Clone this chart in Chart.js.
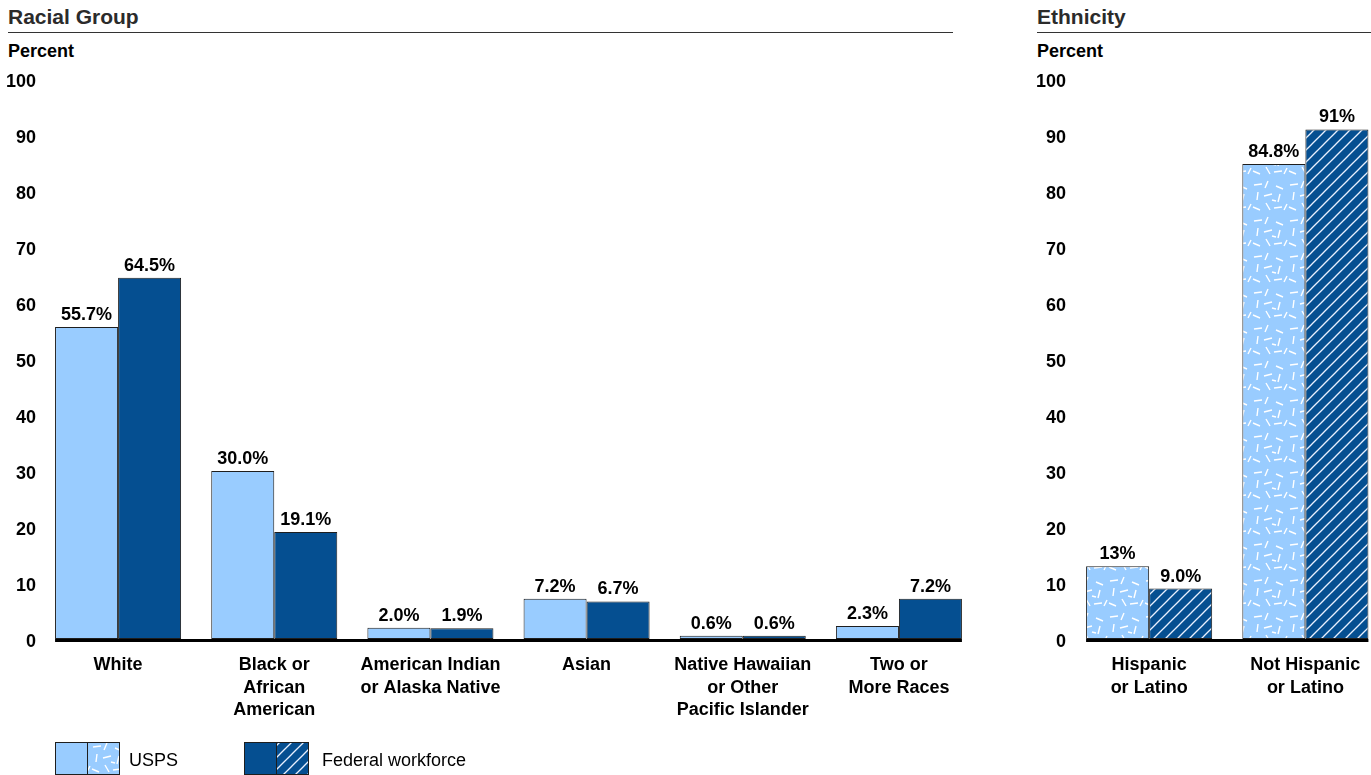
<!DOCTYPE html>
<html>
<head>
<meta charset="utf-8">
<script src="https://cdn.jsdelivr.net/npm/chart.js@4.4.1/dist/chart.umd.min.js"></script>
<style>
  html, body { margin: 0; padding: 0; background: #fff; overflow: hidden; width: 1371px; height: 775px; }
  body { position: relative; font-family: "Liberation Sans", Arial, sans-serif; }
  .title { position: absolute; font-weight: bold; font-size: 21px; color: #2b2b2b; line-height: 24px; }
  .rule { position: absolute; height: 0; border-top: 1.5px solid #333; }
  .unit { position: absolute; font-weight: bold; font-size: 18px; color: #000; line-height: 20px; }
  .cv { position: absolute; top: 0; }
  .leg { position: absolute; font-size: 18px; color: #000; line-height: 20px; }
  .sw { position: absolute; }
</style>
</head>
<body>
<div class="title" style="left:8px; top:5px;">Racial Group</div>
<div class="rule" style="left:8px; top:32px; width:945px;"></div>
<div class="unit" style="left:8px; top:41px;">Percent</div>

<div class="title" style="left:1037px; top:5px;">Ethnicity</div>
<div class="rule" style="left:1037px; top:32px; width:334px;"></div>
<div class="unit" style="left:1037px; top:41px;">Percent</div>

<canvas id="race" class="cv" width="990" height="775" style="left:0px; width:990px; height:775px;"></canvas>
<canvas id="eth" class="cv" width="400" height="775" style="left:1000px; width:400px; height:775px;"></canvas>

<canvas id="swUsps" class="sw" width="65" height="33" style="left:55px; top:742px;"></canvas>
<div class="leg" style="left:129px; top:750px;">USPS</div>
<canvas id="swFed" class="sw" width="65" height="33" style="left:244px; top:742px;"></canvas>
<div class="leg" style="left:322px; top:750px;">Federal workforce</div>

<script>
// ---------- DATA ----------
const raceCategories = [
  ['White'],
  ['Black or', 'African', 'American'],
  ['American Indian', 'or Alaska Native'],
  ['Asian'],
  ['Native Hawaiian', 'or Other', 'Pacific Islander'],
  ['Two or', 'More Races']
];
const raceUsps = [55.7, 30.0, 2.0, 7.2, 0.6, 2.3];
const raceFed = [64.5, 19.1, 1.9, 6.7, 0.6, 7.2];
const raceUspsLabels = ['55.7%', '30.0%', '2.0%', '7.2%', '0.6%', '2.3%'];
const raceFedLabels = ['64.5%', '19.1%', '1.9%', '6.7%', '0.6%', '7.2%'];

const ethCategories = [
  ['Hispanic', 'or Latino'],
  ['Not Hispanic', 'or Latino']
];
const ethUsps = [13, 84.8];
const ethFed = [9.0, 91];
const ethUspsLabels = ['13%', '84.8%'];
const ethFedLabels = ['9.0%', '91%'];

const seriesNames = ['USPS', 'Federal workforce'];
const yTicks = [0, 10, 20, 30, 40, 50, 60, 70, 80, 90, 100];

// ---------- STYLE ----------
const LIGHT = '#99CCFF';
const DARK = '#054F91';
const EDGE = '#1e1e1e';
const FONT = '"Liberation Sans", Arial, sans-serif';

// dash texture geometry (fixed)
const dashSegs = [
  [2,5,10,4],[16,1,13,8],[24,6,31,9],[6,12,5,20],[12,16,20,14],
  [28,14,26,22],[1,27,8,30],[14,23,18,30],[22,28,30,27],[32,30,35,24],[20,20,24,21]
];
function dashPattern(ctx) {
  const c = document.createElement('canvas');
  c.width = 36; c.height = 36;
  const g = c.getContext('2d');
  g.fillStyle = LIGHT; g.fillRect(0, 0, 36, 36);
  g.strokeStyle = '#ffffff'; g.lineWidth = 1.4; g.lineCap = 'butt';
  dashSegs.forEach(s => { g.beginPath(); g.moveTo(s[0], s[1]); g.lineTo(s[2], s[3]); g.stroke(); });
  return ctx.createPattern(c, 'repeat');
}
function hatchPattern(ctx) {
  const c = document.createElement('canvas');
  c.width = 12; c.height = 12;
  const g = c.getContext('2d');
  g.fillStyle = DARK; g.fillRect(0, 0, 12, 12);
  g.strokeStyle = '#e8f0ff'; g.lineWidth = 1.3;
  [[-1,13,13,-1],[-1,1,1,-1],[11,13,13,11]].forEach(s => { g.beginPath(); g.moveTo(s[0], s[1]); g.lineTo(s[2], s[3]); g.stroke(); });
  return ctx.createPattern(c, 'repeat');
}

const valueLabelPlugin = {
  id: 'valueLabels',
  afterDatasetsDraw(chart) {
    const ctx = chart.ctx;
    ctx.save();
    ctx.font = 'bold 18px ' + FONT;
    ctx.fillStyle = '#000';
    ctx.textAlign = 'center';
    ctx.textBaseline = 'alphabetic';
    chart.data.datasets.forEach((ds, i) => {
      const meta = chart.getDatasetMeta(i);
      meta.data.forEach((el, j) => {
        ctx.fillText(ds.valueLabels[j], el.x, el.y - 7);
      });
    });
    // baseline
    const m0 = chart.getDatasetMeta(0);
    const m1 = chart.getDatasetMeta(chart.data.datasets.length - 1);
    const first = m0.data[0], last = m1.data[m1.data.length - 1];
    const x1 = first.x - first.width / 2;
    const x2 = last.x + last.width / 2;
    ctx.strokeStyle = '#000';
    ctx.lineWidth = 3;
    ctx.beginPath();
    ctx.moveTo(x1, chart.chartArea.bottom + 1.5);
    ctx.lineTo(x2, chart.chartArea.bottom + 1.5);
    ctx.stroke();
    ctx.restore();
  }
};

function makeChart(id, cats, usps, fed, uspsL, fedL, uspsBg, fedBg, axisW, padRight, tickPad) {
  const ctx = document.getElementById(id).getContext('2d');
  return new Chart(ctx, {
    type: 'bar',
    data: {
      labels: cats,
      datasets: [
        { label: seriesNames[0], data: usps, valueLabels: uspsL, backgroundColor: uspsBg, borderColor: EDGE, borderWidth: 1, borderSkipped: false },
        { label: seriesNames[1], data: fed, valueLabels: fedL, backgroundColor: fedBg, borderColor: EDGE, borderWidth: 1, borderSkipped: false }
      ]
    },
    options: {
      responsive: false,
      animation: false,
      devicePixelRatio: 1,
      layout: { padding: { top: 79, right: padRight, left: 0, bottom: 0 } },
      plugins: { legend: { display: false }, tooltip: { enabled: false }, title: { display: false } },
      datasets: { bar: { barPercentage: 1.0, categoryPercentage: 0.807 } },
      scales: {
        x: {
          grid: { display: false, drawTicks: false },
          border: { display: false },
          ticks: { color: '#000', font: { family: FONT, size: 18, weight: 'bold', lineHeight: 1.25 }, padding: 15, maxRotation: 0, autoSkip: false },
          afterFit(s) { s.height = 136; }
        },
        y: {
          min: 0, max: 100,
          afterBuildTicks(s) { s.ticks = yTicks.map(v => ({ value: v })); },
          grid: { display: false, drawTicks: false },
          border: { display: false },
          ticks: { color: '#000', font: { family: FONT, size: 18, weight: 'bold' }, padding: tickPad, labelOffset: 3 },
          afterFit(s) { s.width = axisW; }
        }
      }
    },
    plugins: [valueLabelPlugin]
  });
}

const ethCtx = document.getElementById('eth').getContext('2d');

makeChart('race', raceCategories, raceUsps, raceFed, raceUspsLabels, raceFedLabels, LIGHT, DARK, 40, 13, 4);
makeChart('eth', ethCategories, ethUsps, ethFed, ethUspsLabels, ethFedLabels, dashPattern(ethCtx), hatchPattern(ethCtx), 71, 16.5, 5);

// legend swatches
function swatch(id, solid, patFn) {
  const c = document.getElementById(id);
  const g = c.getContext('2d');
  g.fillStyle = solid; g.fillRect(0, 0, 32, 33);
  g.fillStyle = patFn(g); g.fillRect(32, 0, 33, 33);
  g.strokeStyle = EDGE; g.lineWidth = 1;
  g.strokeRect(0.5, 0.5, 64, 32);
  g.beginPath(); g.moveTo(32.5, 0); g.lineTo(32.5, 33); g.stroke();
}
swatch('swUsps', LIGHT, dashPattern);
swatch('swFed', DARK, hatchPattern);
</script>
</body>
</html>
